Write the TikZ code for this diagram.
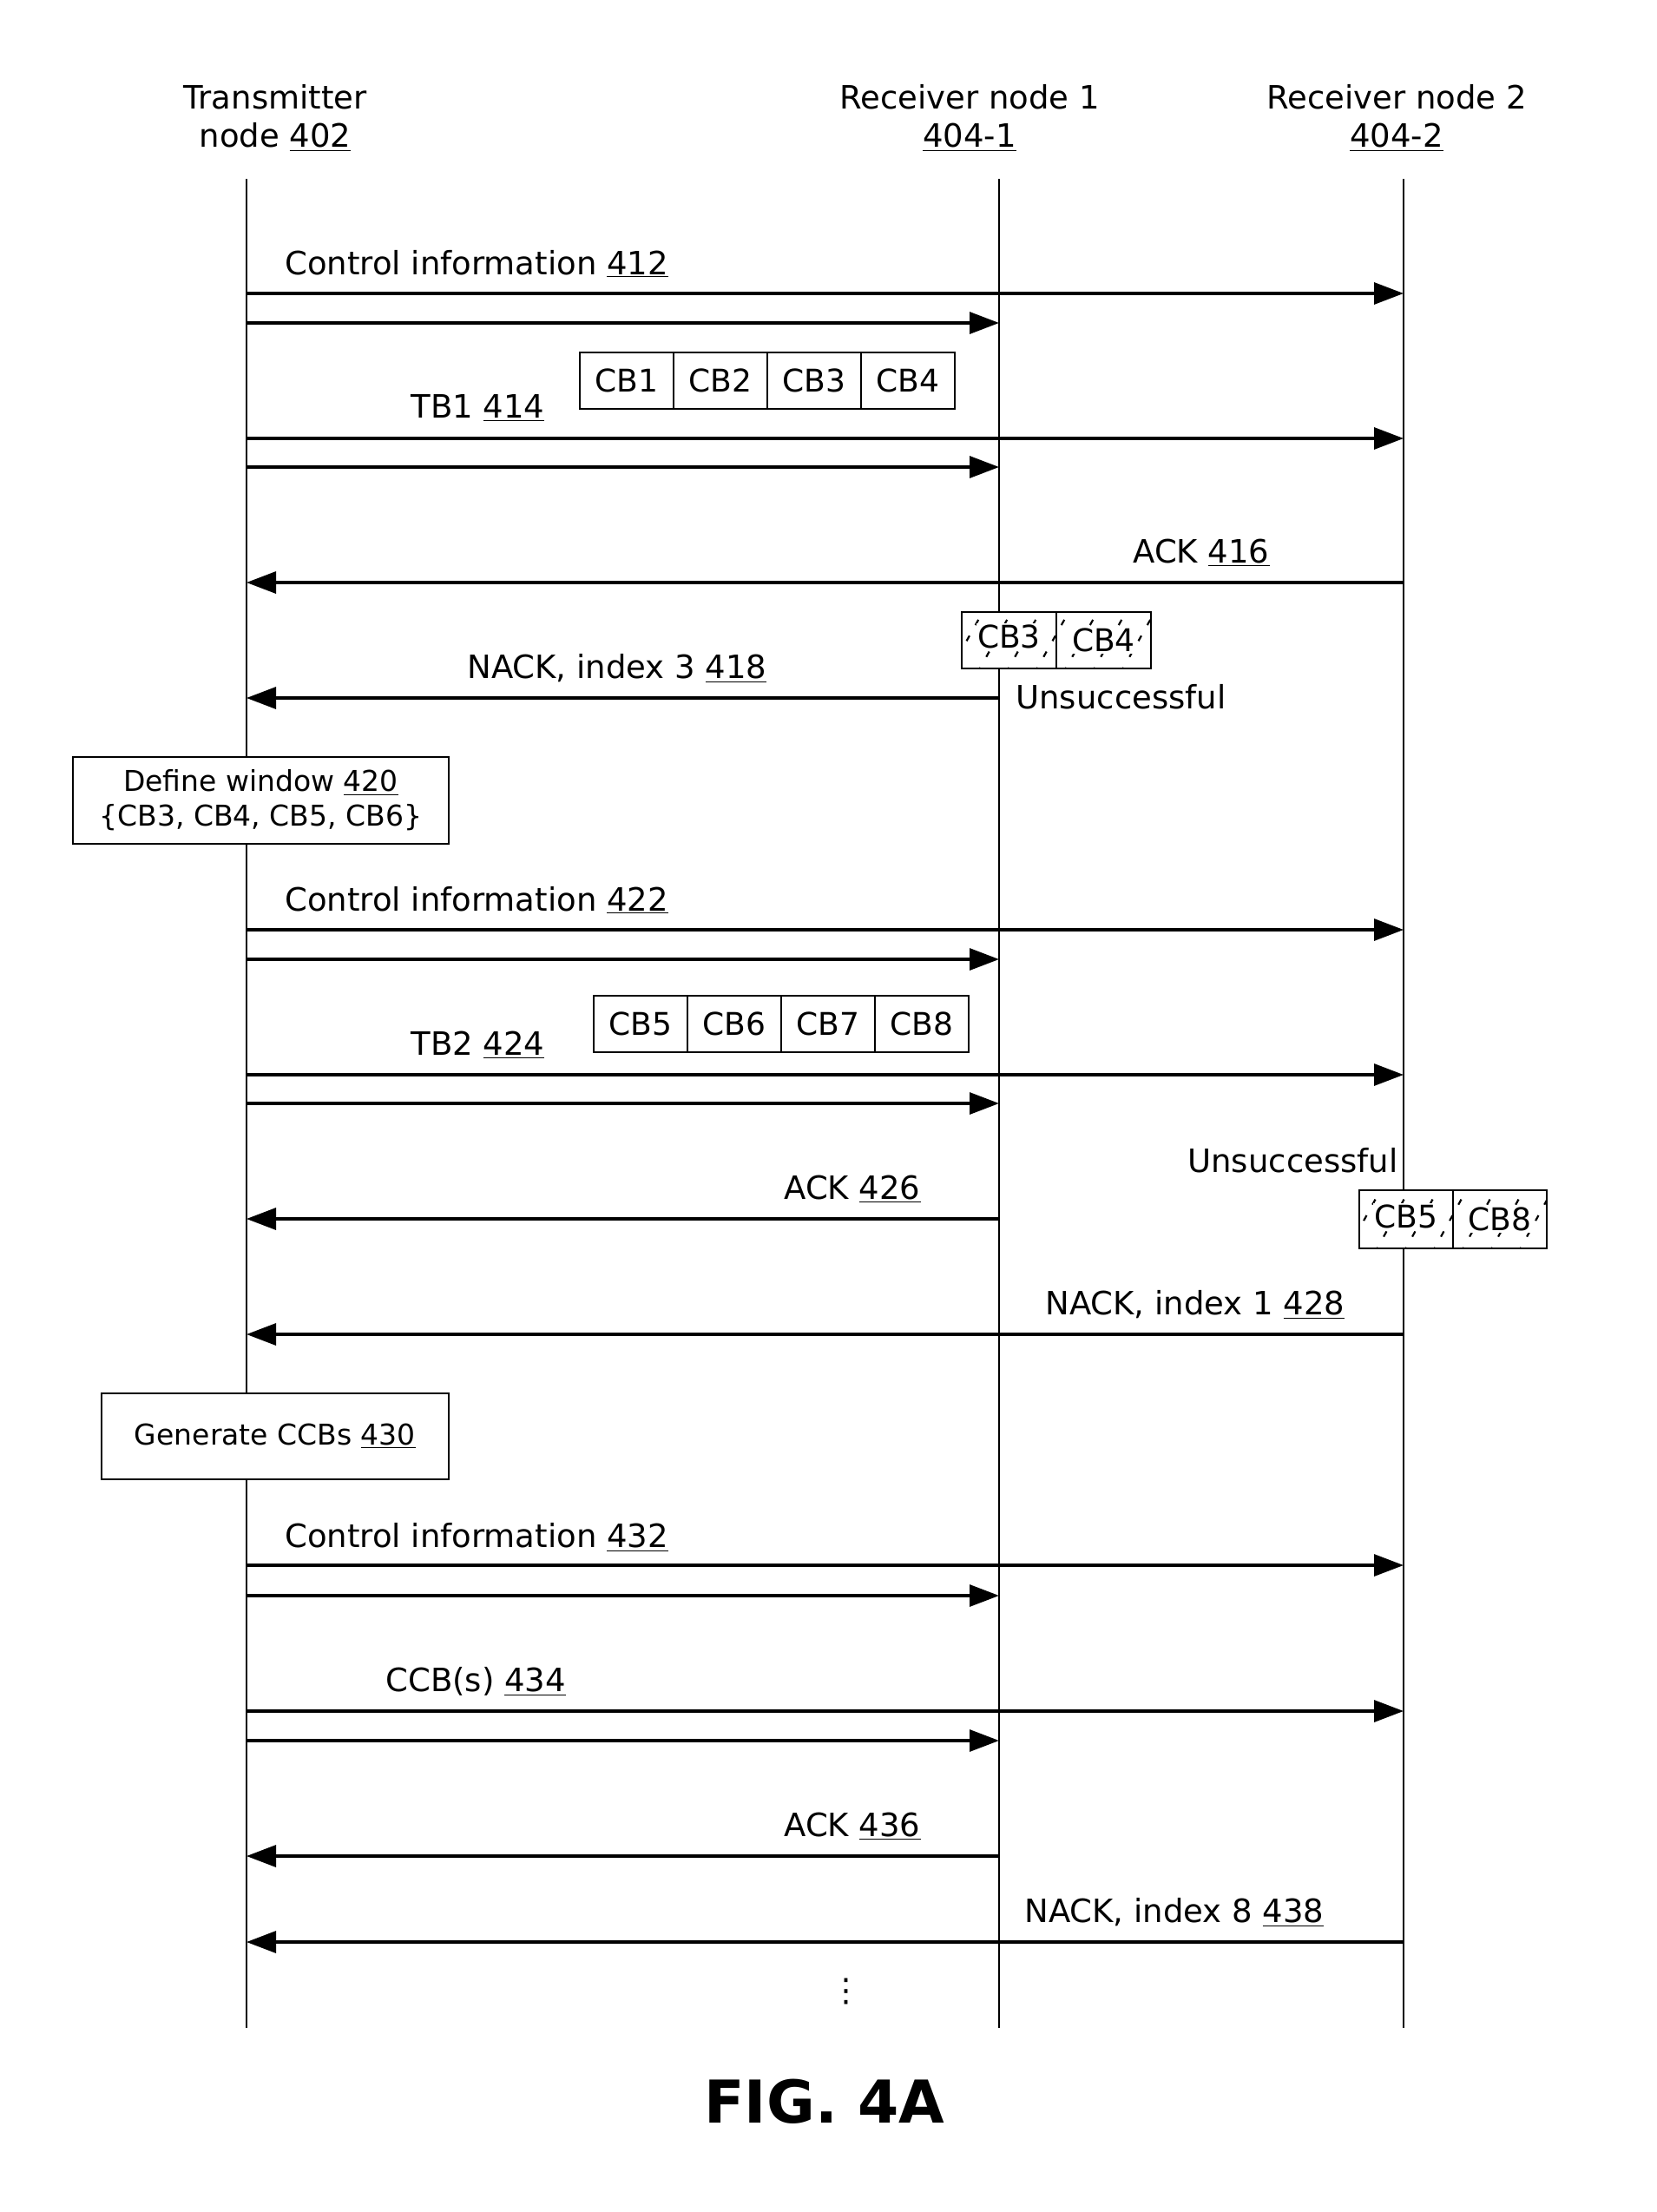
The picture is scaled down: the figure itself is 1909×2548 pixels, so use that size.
\documentclass[tikz,border=0pt]{standalone}
\usepackage{fontspec}
\setmainfont{DejaVu Sans}
\usetikzlibrary{arrows.meta}
\begin{document}
\begin{tikzpicture}[x=0.5pt,y=-0.5pt,
  lbl/.style={inner sep=0pt,font=\fontsize{18.5}{22}\selectfont},
  life/.style={line width=1.2pt},
  msg/.style={line width=1.6pt,-{Triangle[length=17pt,width=12.5pt]}},
  cell/.style={draw,line width=0.75pt,fill=white,minimum width=54pt,minimum height=32.5pt,inner sep=0pt,font=\fontsize{18}{22}\selectfont},
  hcell/.style={inner sep=0.8pt,fill=white,font=\fontsize{18}{22}\selectfont},
  frame/.style={line width=0.75pt},
  actbox/.style={draw,line width=0.75pt,fill=white,inner sep=0pt,align=center,font=\fontsize{16.5}{20}\selectfont},
  hatch/.style={line width=1.1pt,dash pattern=on 3.5pt off 7pt}
]
\useasboundingbox (0,0) rectangle (1909,2548);

% headers
\node[lbl,align=center] (hT) at (317,136) {Transmitter\\node \underline{402}};
\node[lbl,align=center] (hR1) at (1117,136) {Receiver node 1\\\underline{404-1}};
\node[lbl,align=center] (hR2) at (1609,136) {Receiver node 2\\\underline{404-2}};

% lifelines
\coordinate (Ttop) at (284,206);  \coordinate (Tbot) at (284,2336);
\coordinate (R1top) at (1151,206); \coordinate (R1bot) at (1151,2336);
\coordinate (R2top) at (1617,206); \coordinate (R2bot) at (1617,2336);
\draw[life] (Ttop) -- (Tbot);
\draw[life] (R1top) -- (R1bot);
\draw[life] (R2top) -- (R2bot);

% message y levels
\foreach \n/\y in {a/338,b/372,c/505,d/538,e/671,f/804,g/1071,h/1105,i/1238,j/1271,k/1404,l/1537,m/1803,n/1838,o/1971,p/2005,q/2138,r/2237}
  \coordinate (y\n) at (0,\y);

% messages
\draw[msg] (Ttop|-ya) -- (R2top|-ya);
\draw[msg] (Ttop|-yb) -- (R1top|-yb);
\draw[msg] (Ttop|-yc) -- (R2top|-yc);
\draw[msg] (Ttop|-yd) -- (R1top|-yd);
\draw[msg] (R2top|-ye) -- (Ttop|-ye);
\draw[msg] (R1top|-yf) -- (Ttop|-yf);
\draw[msg] (Ttop|-yg) -- (R2top|-yg);
\draw[msg] (Ttop|-yh) -- (R1top|-yh);
\draw[msg] (Ttop|-yi) -- (R2top|-yi);
\draw[msg] (Ttop|-yj) -- (R1top|-yj);
\draw[msg] (R1top|-yk) -- (Ttop|-yk);
\draw[msg] (R2top|-yl) -- (Ttop|-yl);
\draw[msg] (Ttop|-ym) -- (R2top|-ym);
\draw[msg] (Ttop|-yn) -- (R1top|-yn);
\draw[msg] (Ttop|-yo) -- (R2top|-yo);
\draw[msg] (Ttop|-yp) -- (R1top|-yp);
\draw[msg] (R1top|-yq) -- (Ttop|-yq);
\draw[msg] (R2top|-yr) -- (Ttop|-yr);

% labels
\node[lbl,anchor=west] (l412) at (328,304) {Control information \underline{412}};
\node[lbl,anchor=west] (l414) at (473,470) {TB1 \underline{414}};
\node[lbl,anchor=west] (l416) at (1305,637) {ACK \underline{416}};
\node[lbl,anchor=west] (l418) at (538,770) {NACK, index 3 \underline{418}};
\node[lbl,anchor=west] (lu1) at (1170,803) {Unsuccessful};
\node[lbl,anchor=west] (l422) at (328,1037) {Control information \underline{422}};
\node[lbl,anchor=west] (l424) at (473,1204) {TB2 \underline{424}};
\node[lbl,anchor=west] (lu2) at (1368,1337) {Unsuccessful};
\node[lbl,anchor=west] (l426) at (903,1370) {ACK \underline{426}};
\node[lbl,anchor=west] (l428) at (1204,1503) {NACK, index 1 \underline{428}};
\node[lbl,anchor=west] (l432) at (328,1771) {Control information \underline{432}};
\node[lbl,anchor=west] (l434) at (444,1937) {CCB(s) \underline{434}};
\node[lbl,anchor=west] (l436) at (903,2104) {ACK \underline{436}};
\node[lbl,anchor=west] (l438) at (1180,2203) {NACK, index 8 \underline{438}};
\node[lbl] (dots) at (975,2294) {⋮};

% CB cells TB1
\node[cell] (cb1) at (722,438.5) {CB1};
\node[cell] (cb2) at (830,438.5) {CB2};
\node[cell] (cb3) at (938,438.5) {CB3};
\node[cell] (cb4) at (1046,438.5) {CB4};
% CB cells TB2
\node[cell] (cb5) at (738,1179.5) {CB5};
\node[cell] (cb6) at (846,1179.5) {CB6};
\node[cell] (cb7) at (954,1179.5) {CB7};
\node[cell] (cb8) at (1062,1179.5) {CB8};

% hatched cells
\fill[white] (1108,705) rectangle (1326,770);
\fill[white] (1566,1371) rectangle (1782,1438);
\begin{scope}
  \clip (1108,705) rectangle (1326,770);
  \foreach \x in {1060,1093,...,1340}
    \draw[hatch] (\x,775) -- (\x+42,700);
\end{scope}
\begin{scope}
  \clip (1566,1371) rectangle (1782,1438);
  \foreach \x in {1518,1551,...,1800}
    \draw[hatch] (\x,1443) -- (\x+42,1366);
\end{scope}
\node[hcell] (h3) at (1162.5,733) {CB3};
\node[hcell] (h4) at (1271.5,737.5) {CB4};
\node[hcell] (h5) at (1620,1401) {CB5};
\node[hcell] (h8) at (1728,1404.5) {CB8};
\draw[frame] (1108,705) rectangle (1326,770);
\draw[frame] (1217,705) -- (1217,770);
\draw[frame] (1566,1371) rectangle (1782,1438);
\draw[frame] (1674,1371) -- (1674,1438);

% action boxes
\node[actbox,minimum width=216.5pt,minimum height=50pt] (win) at (300.5,922)
  {Define window \underline{420}\\\{CB3, CB4, CB5, CB6\}};
\node[actbox,minimum width=200pt,minimum height=49.5pt] (gen) at (317,1654.5)
  {Generate CCBs \underline{430}};

% figure label
\node[inner sep=0pt,font=\fontsize{34}{40}\selectfont\bfseries] (fig) at (950,2421) {FIG. 4A};
\end{tikzpicture}
\end{document}
